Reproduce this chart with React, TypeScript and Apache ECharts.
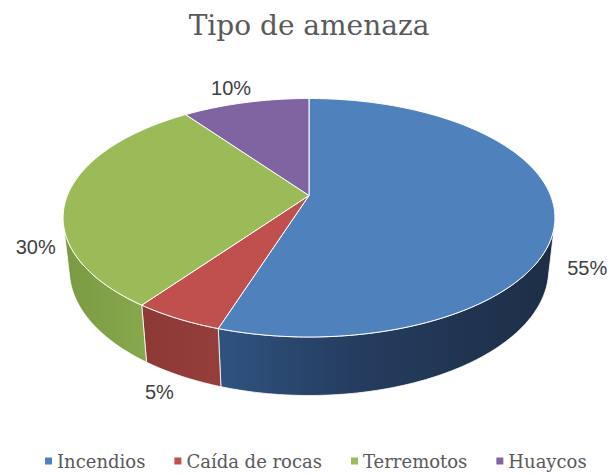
import React, { useEffect, useRef } from 'react';
import * as echarts from 'echarts';

// ---- data ----
const titleText = 'Tipo de amenaza';
const categories = ['Incendios', 'Caída de rocas', 'Terremotos', 'Huaycos'];
const values = [55, 5, 30, 10];

// ---- styles ----
const topColors = ['#4f81bd', '#c0504d', '#9bbb59', '#8064a2'];
const sideColors = [
  ['#2f5380', '#253d60', '#1d2e46'],
  ['#8c3936', '#903b38', '#953f3c'],
  ['#7a9943', '#80a047', '#88a84e'],
  ['#5f4a7a', '#5f4a7a', '#5f4a7a'],
];

// ---- 3D view geometry (perspective projection of a tilted disk) ----
const CX = 309;
const CY = 195.5;
const F = 1138.4;
const SA = 0.4764; // sin(tilt)
const CA = 0.8792; // cos(tilt)
const D = 4.712; // camera distance
const H = 0.2476; // thickness

function project(r: number, t: number, z: number): number[] {
  const x = r * Math.sin(t);
  const y = r * Math.cos(t);
  const v = y * SA + z * CA;
  const w = D + y * CA - z * SA;
  return [CX + (F * x) / w, CY - (F * v) / w];
}

function arcPts(a: number, b: number, z: number): number[][] {
  const n = Math.max(2, Math.ceil((b - a) / (Math.PI / 180)));
  const pts: number[][] = [];
  for (let k = 0; k <= n; k++) pts.push(project(1, a + ((b - a) * k) / n, z));
  return pts;
}

const TOTAL = values.reduce((s, v) => s + v, 0);
const TV1 = Math.acos(-1 / (D * CA));
const TV2 = 2 * Math.PI - TV1;

function makeRender(i: number) {
  return (params: any, api: any) => {
    const before = values.slice(0, i).reduce((s, v) => s + v, 0);
    const val = api.value(0);
    const a = (before / TOTAL) * 2 * Math.PI;
    const b = a + (val / TOTAL) * 2 * Math.PI;
    const children: any[] = [];
    const sa = Math.max(a, TV1);
    const sb = Math.min(b, TV2);
    if (sb > sa) {
      const top = arcPts(sa, sb, 0);
      const bottom = arcPts(sa, sb, -H).reverse();
      const sc = sideColors[i];
      children.push({
        type: 'polygon',
        z2: 1,
        shape: { points: top.concat(bottom) },
        style: {
          fill: new echarts.graphic.LinearGradient(0, 0, 1, 0, [
            { offset: 0, color: sc[0] },
            { offset: 0.4, color: sc[1] },
            { offset: 1, color: sc[2] },
          ]),
          stroke: '#ffffff',
          lineWidth: 0.8,
        },
      });
    }
    const face = [[CX, CY]].concat(arcPts(a, b, 0));
    children.push({
      type: 'polygon',
      z2: 5,
      shape: { points: face },
      style: { fill: topColors[i], stroke: '#ffffff', lineWidth: 1 },
    });
    const m = (a + b) / 2;
    const c = Math.cos(m);
    const zl = -H * Math.min(1, Math.max(0, (0.3 - c) / 0.3));
    const rl = 1.1 + 0.1 * Math.max(c, 0);
    const p = project(rl, m, zl);
    p[0] += 14 * Math.sin(m);
    children.push({
      type: 'text',
      z2: 10,
      x: p[0],
      y: p[1],
      style: {
        text: Math.round((val / TOTAL) * 100) + '%',
        textAlign: 'center',
        textVerticalAlign: 'middle',
        fontFamily: 'Liberation Sans',
        fontSize: 20,
        fill: '#404040',
      },
    });
    return { type: 'group', children };
  };
}

export default function App() {
  const ref = useRef<HTMLDivElement>(null);
  useEffect(() => {
    if (!ref.current) return;
    const chart = echarts.init(ref.current, undefined, { renderer: 'svg' });
    chart.setOption({
      animation: false,
      backgroundColor: '#ffffff',
      graphic: [
        {
          type: 'text',
          x: 309,
          y: 25,
          style: {
            text: titleText,
            textAlign: 'center',
            textVerticalAlign: 'middle',
            fontFamily: 'DejaVu Serif',
            fontSize: 28,
            fill: '#595959',
          },
        },
      ],
      legend: {
        data: categories,
        left: 45,
        top: 452,
        padding: 0,
        itemGap: 29,
        itemWidth: 7,
        itemHeight: 7,
        icon: 'rect',
        selectedMode: false,
        textStyle: { fontFamily: 'DejaVu Serif', fontSize: 18, color: '#595959' },
      },
      series: categories.map((name, i) => ({
        type: 'custom',
        name,
        coordinateSystem: 'none',
        silent: true,
        itemStyle: { color: topColors[i] },
        data: [[values[i]]],
        renderItem: makeRender(i),
      })),
    });
    return () => chart.dispose();
  }, []);
  return (
    <div
      ref={ref}
      style={{ position: 'fixed', left: 0, top: 0, width: 611, height: 475, background: '#fff' }}
    />
  );
}
